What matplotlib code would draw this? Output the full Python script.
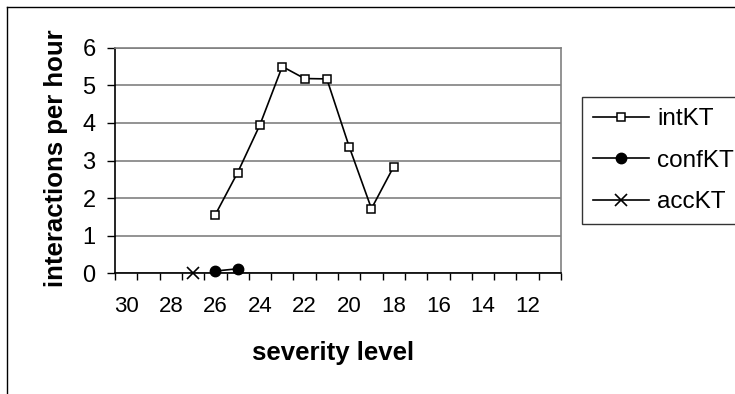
import matplotlib.pyplot as plt
from matplotlib.lines import Line2D

plt.rcParams['font.family'] = ['Liberation Sans', 'DejaVu Sans']

# severity levels run from 30 down to 11 (one category each)
tick_levels = [30, 28, 26, 24, 22, 20, 18, 16, 14, 12]

int_x = [26, 25, 24, 23, 22, 21, 20, 19, 18]
int_y = [1.56, 2.68, 3.95, 5.50, 5.18, 5.17, 3.37, 1.72, 2.84]

conf_x = [26, 25]
conf_y = [0.06, 0.12]

acc_x = [27]
acc_y = [0.0]

W, H = 735, 394
fig = plt.figure(figsize=(W / 100, H / 100), dpi=100)

ax = fig.add_axes([115 / W, 1 - 273.3 / H, 446 / W, 225.6 / H])

ax.plot(int_x, int_y, color='black', lw=1.2, marker='s', ms=5.5,
        mfc='white', mec='black', mew=1.1, label='intKT', clip_on=False, zorder=3)
ax.plot(conf_x, conf_y, color='black', lw=1.2, marker='o', ms=7.5,
        mfc='black', mec='black', label='confKT', clip_on=False, zorder=3)
ax.plot(acc_x, acc_y, color='black', lw=1.2, marker='x', ms=8, mew=1.2,
        label='accKT', clip_on=False, zorder=3)

ax.set_xlim(30.5, 10.5)
ax.set_ylim(0, 6)

ax.set_yticks(range(0, 7))
ax.yaxis.grid(True, color='#808080', lw=1.2)
ax.set_axisbelow(True)

# labels every second level, tick marks between categories
ax.set_xticks(tick_levels)
ax.set_xticklabels([str(v) for v in tick_levels])
ax.set_xticks([v + 0.5 for v in range(30, 10, -1)] + [10.5], minor=True)
ax.tick_params(axis='x', which='major', length=0, pad=16, labelsize=16)
ax.tick_params(axis='x', which='minor', length=5, width=1, direction='out')
ax.tick_params(axis='y', which='major', length=6, width=1, direction='out',
               pad=8, labelsize=17)

for side in ('top', 'right'):
    ax.spines[side].set_color('#808080')
    ax.spines[side].set_linewidth(1.2)
for side in ('left', 'bottom'):
    ax.spines[side].set_color('black')
    ax.spines[side].set_linewidth(1.2)

ax.set_xlabel('severity level', fontsize=18.5, fontweight='bold')
ax.xaxis.set_label_coords(0.49, -0.3)
ax.set_ylabel('interactions per hour', fontsize=18.5, fontweight='bold')
ax.yaxis.set_label_coords(-0.105, 0.51)

leg = fig.legend(loc='upper left', bbox_to_anchor=(582 / W, 1 - 97.3 / H),
                 fontsize=17.5, frameon=True, fancybox=False, edgecolor='black',
                 handlelength=2.3, handletextpad=0.35, labelspacing=0.8,
                 borderpad=0.45, borderaxespad=0)
leg.get_frame().set_linewidth(1.0)

# chart area border (top and left edges)
fig.add_artist(Line2D([7 / W, 1.0], [1 - 7 / H, 1 - 7 / H], color='black', lw=1.0))
fig.add_artist(Line2D([7 / W, 7 / W], [0.0, 1 - 7 / H], color='black', lw=1.0))

fig.savefig('out.png', dpi=100)
